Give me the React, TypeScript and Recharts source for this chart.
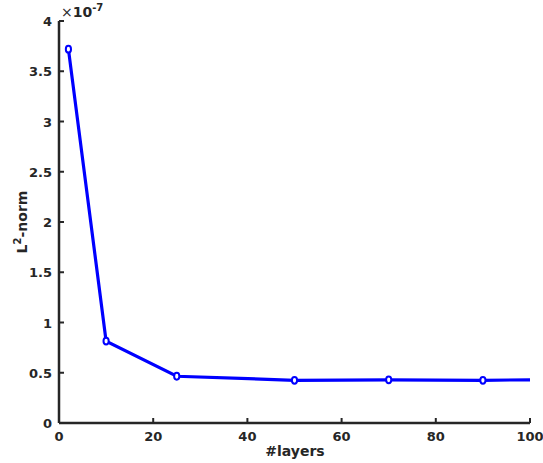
import React from 'react';
import { LineChart, Line, XAxis, YAxis, Customized } from 'recharts';

// values in units of 1e-7
const layers = [2, 10, 25, 50, 70, 90, 100];
const l2norm = [3.72, 0.815, 0.465, 0.425, 0.43, 0.425, 0.43];
const marked = [true, true, true, true, true, true, false];

const xTicks = [0, 20, 40, 60, 80, 100];
const yTicks = [0, 0.5, 1, 1.5, 2, 2.5, 3, 3.5, 4];

const data = layers.map((x, i) => ({ layers: x, norm: l2norm[i], marked: marked[i] }));

const FONT = 'DejaVu Sans, sans-serif';
const AXIS = '#262626';

const XTick = (props: any) => {
  const { x, y, payload } = props;
  return (
    <g>
      <line x1={x} y1={y} x2={x} y2={y - 5} stroke={AXIS} strokeWidth={2} />
      <text x={x} y={y + 18} textAnchor="middle" fontFamily={FONT} fontWeight="bold" fontSize={13} fill={AXIS}>
        {payload.value}
      </text>
    </g>
  );
};

const YTick = (props: any) => {
  const { x, y, payload } = props;
  return (
    <g>
      <line x1={x} y1={y} x2={x + 5} y2={y} stroke={AXIS} strokeWidth={2} />
      <text x={x - 7} y={y + 5} textAnchor="end" fontFamily={FONT} fontWeight="bold" fontSize={13} fill={AXIS}>
        {payload.value}
      </text>
    </g>
  );
};

const Marker = (props: any) => {
  const { cx, cy, payload, index } = props;
  if (!payload.marked) return <g key={index} />;
  return <ellipse key={index} cx={cx} cy={cy} rx={2.6} ry={3.4} fill="#ffffff" stroke="#0000ff" strokeWidth={2} />;
};

export default function App() {
  return (
    <div style={{ position: 'absolute', left: 0, top: 0, width: 543, height: 463, background: '#fff' }}>
      <LineChart width={543} height={463} data={data} margin={{ top: 21, right: 13, bottom: 0, left: 0 }}>
        <XAxis
          dataKey="layers"
          type="number"
          domain={[0, 100]}
          ticks={xTicks}
          height={40}
          stroke={AXIS}
          strokeWidth={2.5}
          tickSize={0}
          tickMargin={0}
          tick={<XTick />}
          interval={0}
        />
        <YAxis
          type="number"
          domain={[0, 4]}
          ticks={yTicks}
          width={59}
          stroke={AXIS}
          strokeWidth={2.5}
          tickSize={0}
          tickMargin={0}
          tick={<YTick />}
          interval={0}
        />
        <Line
          dataKey="norm"
          stroke="#0000ff"
          strokeWidth={3.2}
          dot={<Marker />}
          activeDot={false}
          isAnimationActive={false}
        />
        <Customized
          component={() => (
            <g fontFamily={FONT} fill={AXIS}>
              <text x={61} y={17} fontSize={14} fontWeight="bold">
                <tspan fontWeight="normal">×</tspan>10
                <tspan dy={-6} fontSize={10}>-7</tspan>
              </text>
              <text x={295} y={456} textAnchor="middle" fontSize={14} fontWeight="bold">
                #layers
              </text>
              <text transform="translate(27,222) rotate(-90)" textAnchor="middle" fontSize={14} fontWeight="bold">
                L<tspan dy={-6} fontSize={10}>2</tspan>
                <tspan dy={6}>-norm</tspan>
              </text>
            </g>
          )}
        />
      </LineChart>
    </div>
  );
}
